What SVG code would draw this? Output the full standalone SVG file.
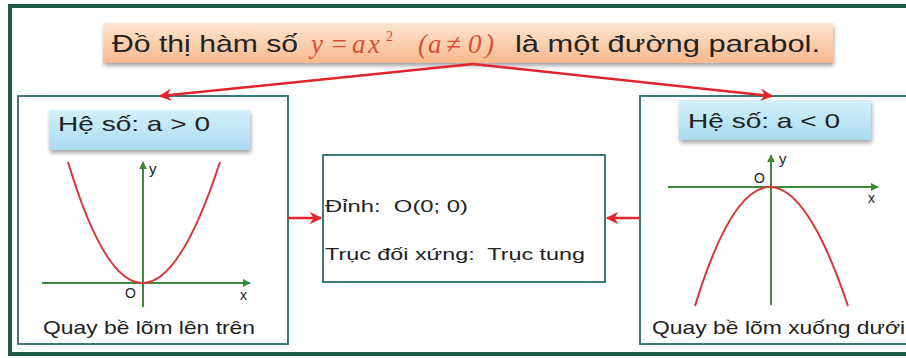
<svg xmlns="http://www.w3.org/2000/svg" width="906" height="358" viewBox="0 0 906 358">
<defs>
<linearGradient id="bannerG" x1="0" y1="0" x2="0" y2="1">
<stop offset="0" stop-color="#fde6d4"/>
<stop offset="0.5" stop-color="#fbcfae"/>
<stop offset="1" stop-color="#f7b98f"/>
</linearGradient>
<linearGradient id="labelG" x1="0" y1="0" x2="0" y2="1">
<stop offset="0" stop-color="#d4f0fa"/>
<stop offset="1" stop-color="#a9dcf0"/>
</linearGradient>
<filter id="sh" x="-5%" y="-20%" width="110%" height="150%">
<feGaussianBlur in="SourceAlpha" stdDeviation="2"/>
<feOffset dx="1" dy="3"/>
<feComponentTransfer><feFuncA type="linear" slope="0.35"/></feComponentTransfer>
<feMerge><feMergeNode/><feMergeNode in="SourceGraphic"/></feMerge>
</filter>
<marker id="ar" viewBox="0 0 10 10" refX="9" refY="5" markerWidth="5" markerHeight="5" orient="auto-start-reverse">
<path d="M0,0 L10,5 L0,10 L3,5 z" fill="#e0262c"/>
</marker>
<marker id="ag" viewBox="0 0 10 10" refX="9" refY="5" markerWidth="4" markerHeight="4" orient="auto">
<path d="M0,0 L10,5 L0,10 z" fill="#3a8a3a"/>
</marker>
</defs>
<style>
.t{font-family:"Liberation Sans",Arial,sans-serif;fill:#222}
.m{font-family:"Liberation Serif","Times New Roman",serif;font-style:italic;fill:#d9503a;font-size:27px}
.box{fill:#fff;stroke:#3c7a78;stroke-width:2}
.ax{stroke:#3a8a3a;stroke-width:2;fill:none}
.pb{stroke:#d8343c;stroke-width:2;fill:none}
.con{stroke:#e0262c;stroke-width:2.5;fill:none}
</style>
<rect x="0" y="0" width="906" height="358" fill="#fff"/>
<rect id="frame" x="10" y="6" width="910" height="348" fill="#fff" stroke="#1f5a4a" stroke-width="4"/>

<g id="banner">
<rect x="103" y="23" width="730" height="40" fill="url(#bannerG)" filter="url(#sh)"/>
<text class="t" x="112" y="52" font-size="24" textLength="186" lengthAdjust="spacingAndGlyphs">Đồ thị hàm số</text>
<text class="m" x="311" y="53">y</text>
<text class="m" x="330" y="53" font-style="normal">=</text>
<text class="m" x="352" y="53">a</text>
<text class="m" x="368" y="53">x</text>
<text class="m" x="386" y="41" style="font-size:14px;font-style:normal">2</text>
<text class="m" x="418" y="53">(</text>
<text class="m" x="428" y="53">a</text>
<text class="m" x="446" y="53" font-style="normal">≠</text>
<text class="m" x="468" y="53" font-style="normal">0</text>
<text class="m" x="485" y="53" font-style="normal">)</text>
<text class="t" x="515" y="52" font-size="24" textLength="305" lengthAdjust="spacingAndGlyphs">là một đường parabol.</text>
</g>

<g id="left">
<rect class="box" x="18" y="96" width="270" height="248"/>
<rect x="49" y="110" width="201" height="40" fill="url(#labelG)" filter="url(#sh)"/>
<text class="t" x="58" y="131" font-size="21" textLength="152" lengthAdjust="spacingAndGlyphs">Hệ số: a &gt; 0</text>
<line class="ax" x1="42" y1="283" x2="250" y2="283" marker-end="url(#ag)"/>
<line class="ax" x1="143" y1="307" x2="143" y2="162" marker-end="url(#ag)"/>
<path class="pb" d="M68,162 Q141,404 220,162"/>
<text class="t" x="125" y="298" font-size="14" fill="#333">O</text>
<text class="t" x="149" y="174" font-size="15">y</text>
<text class="t" x="240" y="300" font-size="14">x</text>
<text class="t" x="43" y="334" font-size="19" textLength="212" lengthAdjust="spacingAndGlyphs">Quay bề lõm lên trên</text>
</g>

<g id="middle">
<rect class="box" x="323" y="155" width="282" height="127"/>
<text class="t" x="325" y="212" font-size="17" xml:space="preserve" textLength="143" lengthAdjust="spacingAndGlyphs">Đỉnh:  O(0; 0)</text>
<text class="t" x="325" y="260" font-size="17" xml:space="preserve" textLength="260" lengthAdjust="spacingAndGlyphs">Trục đối xứng:  Trục tung</text>
</g>

<g id="right">
<rect class="box" x="640" y="96" width="270" height="248"/>
<rect x="679" y="100" width="192" height="40" fill="url(#labelG)" filter="url(#sh)"/>
<text class="t" x="688" y="128" font-size="21" textLength="152" lengthAdjust="spacingAndGlyphs">Hệ số: a &lt; 0</text>
<line class="ax" x1="668" y1="187" x2="878" y2="187" marker-end="url(#ag)"/>
<line class="ax" x1="771" y1="305" x2="771" y2="155" marker-end="url(#ag)"/>
<path class="pb" d="M695,306 Q768,68 848,306"/>
<text class="t" x="754" y="183" font-size="14">O</text>
<text class="t" x="779" y="164" font-size="15">y</text>
<text class="t" x="868" y="203" font-size="14">x</text>
<text class="t" x="652" y="334" font-size="19" textLength="253" lengthAdjust="spacingAndGlyphs">Quay bề lõm xuống dưới</text>
</g>

<g id="connectors">
<polyline class="con" points="160,96 473,64" marker-start="url(#ar)"/>
<polyline class="con" points="473,64 772,96" marker-end="url(#ar)"/>
<line class="con" x1="288" y1="218" x2="321" y2="218" marker-end="url(#ar)"/>
<line class="con" x1="640" y1="218" x2="607" y2="218" marker-end="url(#ar)"/>
</g>
</svg>
